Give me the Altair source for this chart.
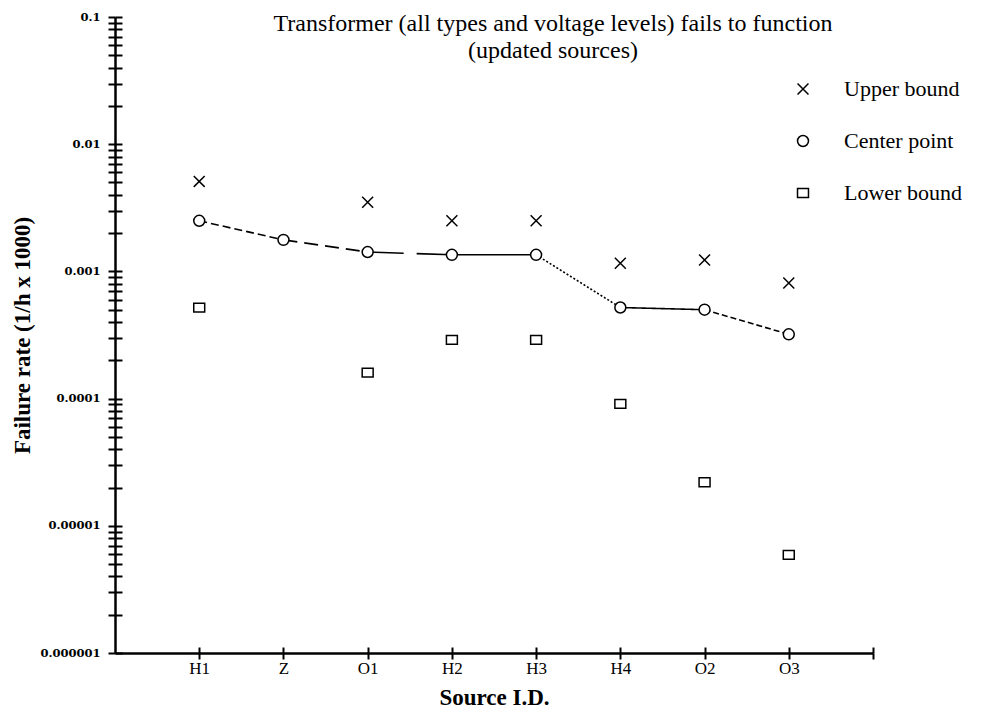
import altair as alt
import pandas as pd

categories = ["H1", "Z", "O1", "H2", "H3", "H4", "O2", "O3"]
upper = [0.0051, None, 0.0035, 0.0025, 0.0025, 0.00116, 0.00123, 0.00081]
center = [0.0025, 0.00177, 0.00142, 0.00135, 0.00135, 0.00052, 0.0005, 0.00032]
lower = [0.00052, None, 0.00016, 0.00029, 0.00029, 0.000091, 0.000022, 0.0000059]
segment_styles = ["short", "long", "gap", "solid", "dotted", "solid", "dashed"]
series_names = ["Upper bound", "Center point", "Lower bound"]

SERIF = "Liberation Serif"

# long-form point table
rows = []
for name, vals in zip(series_names, [upper, center, lower]):
    for i, (c, v) in enumerate(zip(categories, vals)):
        if v is not None:
            rows.append({"idx": i + 1, "cat": c, "value": v, "series": name})
points_df = pd.DataFrame(rows)

# center line segments
seg_rows = []
for i, style in enumerate(segment_styles):
    seg_rows.append({"seg": i, "idx": i + 1, "value": center[i], "style": style})
    seg_rows.append({"seg": i, "idx": i + 2, "value": center[i + 1], "style": style})
seg_df = pd.DataFrame(seg_rows)

n = len(categories)
cat_js = "[" + ",".join("'%s'" % c for c in categories) + "]"
x_label_expr = "datum.value >= 1 && datum.value <= %d ? %s[datum.value - 1] : ''" % (n, cat_js)
y_values = [m * 10.0 ** k for k in range(-6, -1) for m in range(1, 10)] + [0.1]
y_label_expr = ("abs(log(datum.value)/LN10 - round(log(datum.value)/LN10)) < 1e-6 "
                "? format(datum.value, '.6~f') : ''")
x_values = list(range(1, n + 2))

x_scale = alt.Scale(domain=[0, n + 1], nice=False, zero=False)
y_scale = alt.Scale(type="log", domain=[1e-6, 0.1], nice=False)

x_main = alt.Axis(values=x_values, orient="bottom", labelExpr=x_label_expr, tickSize=6,
                  tickWidth=2, domainWidth=2.5, domainColor="black", tickColor="black",
                  labelFont=SERIF, labelFontSize=17, labelColor="black", labelPadding=1,
                  title="Source I.D.", titleFont=SERIF, titleFontSize=23, titleFontWeight="bold",
                  titleColor="black", titlePadding=10, grid=False, labelAngle=0)
y_main = alt.Axis(values=y_values, orient="left", labelExpr=y_label_expr, tickSize=7,
                  tickWidth=2, domainWidth=2.5, domainColor="black", tickColor="black",
                  labelFont="DejaVu Serif", labelFontSize=11.5, labelFontWeight="bold",
                  labelColor="black", labelPadding=8, labelOverlap=False,
                  title="Failure rate (1/h x 1000)", titleFont=SERIF, titleFontSize=23,
                  titleFontWeight="bold", titleColor="black", titlePadding=5, grid=False)
x_inner = alt.Axis(values=x_values, orient="bottom", offset=-6, tickSize=6, tickWidth=2,
                   tickColor="black", domain=False, labels=False, title=None, grid=False)
y_inner = alt.Axis(values=y_values, orient="left", offset=-7, tickSize=7, tickWidth=2,
                   tickColor="black", domain=False, labels=False, title=None, grid=False)

x_path = "M-1,-1L1,1M-1,1L1,-1"
rect_path = "M-1,-0.8H1V0.8H-1Z"

lines = alt.Chart(seg_df).mark_line(color="black", strokeWidth=1.6).encode(
    x=alt.X("idx:Q", scale=x_scale, axis=x_inner),
    y=alt.Y("value:Q", scale=y_scale, axis=y_inner),
    detail="seg:N",
    strokeDash=alt.StrokeDash(
        "style:N",
        scale=alt.Scale(domain=["short", "long", "gap", "solid", "dotted", "dashed"],
                        range=[[8, 4], [14, 7], [36, 13, 200], [1, 0], [2, 2], [6, 3]]),
        legend=None),
)

legend = alt.Legend(orient="none", legendX=677, legendY=61, title=None,
                    labelFont=SERIF, labelFontSize=22, labelColor="black",
                    rowPadding=30, labelOffset=30, symbolSize=120,
                    symbolStrokeWidth=1.5, padding=0)

pts = alt.Chart(points_df).mark_point(filled=False, fill="white", strokeWidth=1.5,
                                      opacity=1, fillOpacity=1, size=120).encode(
    x=alt.X("idx:Q", scale=x_scale, axis=x_main),
    y=alt.Y("value:Q", scale=y_scale, axis=y_main),
    shape=alt.Shape("series:N",
                    scale=alt.Scale(domain=series_names, range=[x_path, "circle", rect_path]),
                    legend=legend),
    color=alt.Color("series:N",
                    scale=alt.Scale(domain=series_names, range=["black", "black", "black"]),
                    legend=legend),
)

chart = alt.layer(lines, pts).resolve_axis(x="independent", y="independent").properties(
    width=758, height=636,
    padding={"left": 107, "top": 9, "right": 100, "bottom": 62},
    autosize="none",
    background="white",
    title=alt.TitleParams(
        text=["Transformer (all types and voltage levels) fails to function",
              "(updated sources)"],
        anchor="middle", frame="group", dx=59, dy=52, baseline="top", offset=0,
        font=SERIF, fontSize=24, fontWeight="normal", lineHeight=27, color="black"),
).configure_view(stroke=None)

chart.save("out.html", embed_options={"renderer": "svg", "actions": False})
